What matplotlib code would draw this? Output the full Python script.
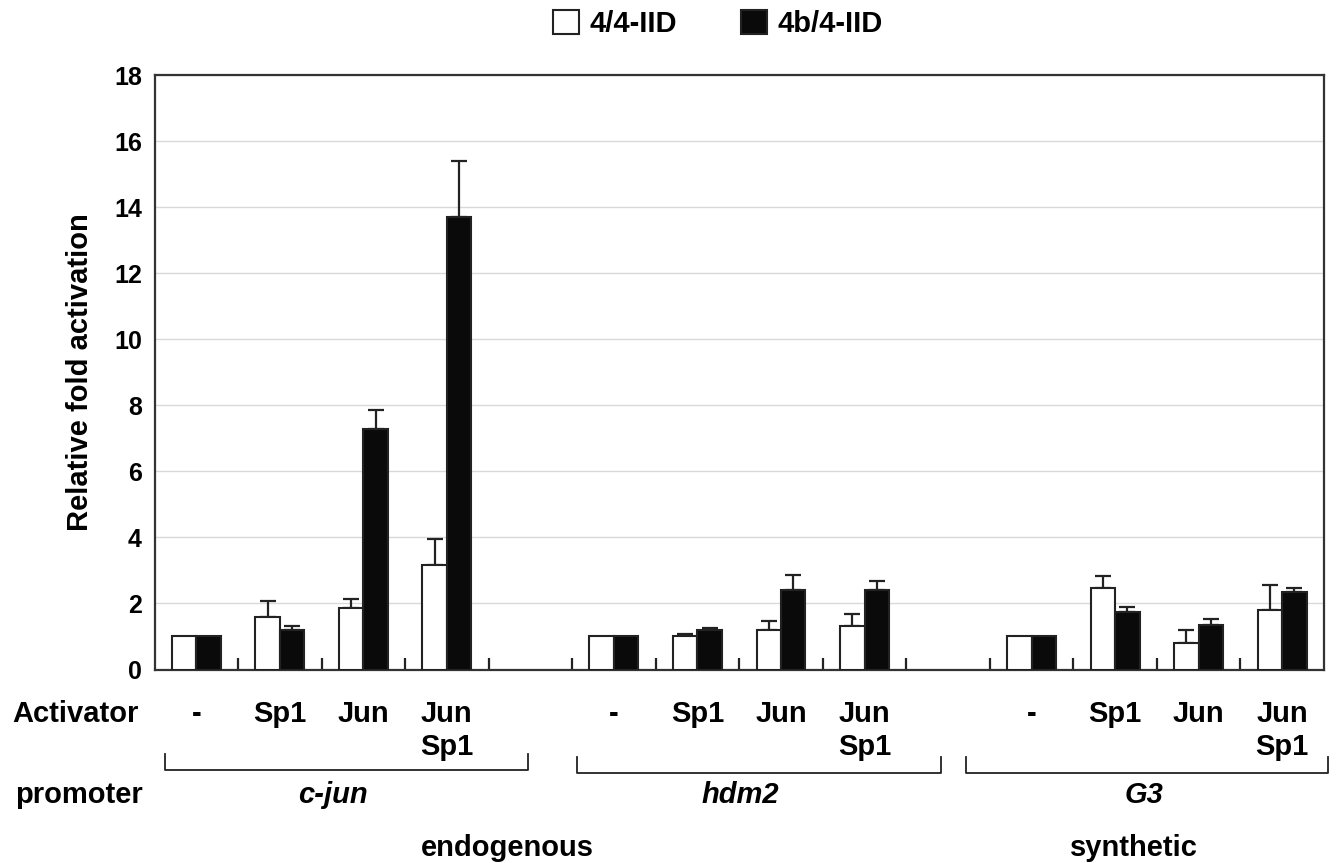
import numpy as np
import matplotlib
matplotlib.use("Agg")
import matplotlib.pyplot as plt
from matplotlib.patches import Patch
from matplotlib.transforms import blended_transform_factory

plt.rcParams['font.family'] = ['Liberation Sans', 'DejaVu Sans']
plt.rcParams['font.weight'] = 'bold'

# ---------------------------------------------------------------------
# DATA
# ---------------------------------------------------------------------
activators = ["-", "Sp1", "Jun", "Jun\nSp1", "",
              "-", "Sp1", "Jun", "Jun\nSp1", "",
              "-", "Sp1", "Jun", "Jun\nSp1"]

white_vals = [1.0, 1.60, 1.87, 3.15, np.nan,
              1.0, 1.00, 1.21, 1.33, np.nan,
              1.0, 2.47, 0.79, 1.80]
white_err = [0, 0.47, 0.26, 0.79, 0,
             0, 0.08, 0.26, 0.34, 0,
             0, 0.35, 0.40, 0.76]

black_vals = [1.0, 1.21, 7.28, 13.70, np.nan,
              1.0, 1.21, 2.42, 2.42, np.nan,
              1.0, 1.75, 1.34, 2.35]
black_err = [0, 0.12, 0.57, 1.69, 0,
             0, 0.06, 0.43, 0.25, 0,
             0, 0.13, 0.19, 0.12]

series_names = ["4/4-IID", "4b/4-IID"]

# promoter groups: bracket start / end and text x, in category units
promoters = ["c-jun", "hdm2", "G3"]
bracket_from = [-0.37, 4.56, 9.21]
bracket_to = [3.97, 8.91, 13.55]
promoter_x = [1.64, 6.51, 11.34]
kinds = ["endogenous", "synthetic"]
kind_x = [3.72, 11.22]

# ---------------------------------------------------------------------
# PLOT
# ---------------------------------------------------------------------
W, H = 1337, 863
fig = plt.figure(figsize=(W / 100, H / 100), dpi=100)
ax = fig.add_axes([154.5 / W, 1 - 669.5 / H, (1324 - 154.5) / W, (669.5 - 75) / H])

x = np.arange(len(activators))
bw = 0.293

def _bars(offset, vals, errs, color):
    vals = np.array(vals, dtype=float)
    errs = np.array(errs, dtype=float)
    ok = ~np.isnan(vals)
    ax.bar(x[ok] + offset, vals[ok], width=bw, color=color, edgecolor='#222222',
           linewidth=1.5, zorder=3)
    has_err = ok & (errs > 0)
    ax.errorbar(x[has_err] + offset, vals[has_err],
                yerr=[np.zeros(has_err.sum()), errs[has_err]],
                fmt='none', ecolor='#222222', elinewidth=1.6, capsize=5.5,
                capthick=1.6, zorder=2)

_bars(-bw / 2, white_vals, white_err, 'white')
_bars(bw / 2, black_vals, black_err, '#0a0a0a')

ax.set_xlim(-0.5, len(activators) - 0.5)
ax.set_ylim(0, 18)
ax.set_yticks(range(0, 19, 2))
ax.tick_params(axis='y', length=0, pad=9, labelsize=18)
for lab in ax.get_yticklabels():
    lab.set_fontweight('bold')
ax.set_xticks(x[1:] - 0.5)
ax.set_xticklabels([])
ax.tick_params(axis='x', direction='in', length=8.5, width=1.6, color='#222222')
ax.yaxis.grid(True, color='#d9d9d9', linewidth=1.0, zorder=0)
ax.set_axisbelow(True)
for sp in ax.spines.values():
    sp.set_linewidth(1.6)
    sp.set_color('#333333')

ax.set_ylabel("Relative fold activation", fontsize=21, fontweight='bold')
ax.yaxis.set_label_coords(-0.0637, 0.5)
ax.yaxis.label.set_va('center')

# labels below axis: x in data, y in figure pixels (from top)
tr = blended_transform_factory(ax.transData, fig.transFigure)
def fy(py):
    return 1 - py / H

fig.text(12 / W, fy(721.7), "Activator", fontsize=21, fontweight='bold',
         ha='left', va='baseline')
for xi, lab in zip(x, activators):
    for k, line in enumerate(lab.split("\n")):
        ax.text(xi, fy(721.7 + 33.5 * k), line, transform=tr, fontsize=21,
                fontweight='bold', ha='center', va='baseline')

bracket_y = [770, 773.3, 773.3]
for x0, x1, by in zip(bracket_from, bracket_to, bracket_y):
    ax.plot([x0, x0, x1, x1], [fy(by - 16.5), fy(by), fy(by), fy(by - 16.5)],
            transform=tr, color='#222222', linewidth=1.3, clip_on=False)

fig.text(15 / W, fy(803), "promoter", fontsize=21, fontweight='bold',
         ha='left', va='baseline')
for px, name in zip(promoter_x, promoters):
    ax.text(px, fy(803), name, transform=tr, fontsize=21, fontweight='bold',
            style='italic', ha='center', va='baseline')
for kx, name in zip(kind_x, kinds):
    ax.text(kx, fy(855.5), name, transform=tr, fontsize=21, fontweight='bold',
            ha='center', va='baseline')

# legend
handles = [Patch(facecolor='white', edgecolor='#222222', linewidth=1.5),
           Patch(facecolor='#0a0a0a', edgecolor='#222222', linewidth=1.5)]
fig.legend(handles, series_names, loc='center', bbox_to_anchor=(718 / W, fy(24)),
           ncol=2, frameon=False, handlelength=0.9, handleheight=0.9,
           handletextpad=0.35, columnspacing=2.2, prop={'weight': 'bold', 'size': 21})

fig.savefig("out.png", dpi=100)
